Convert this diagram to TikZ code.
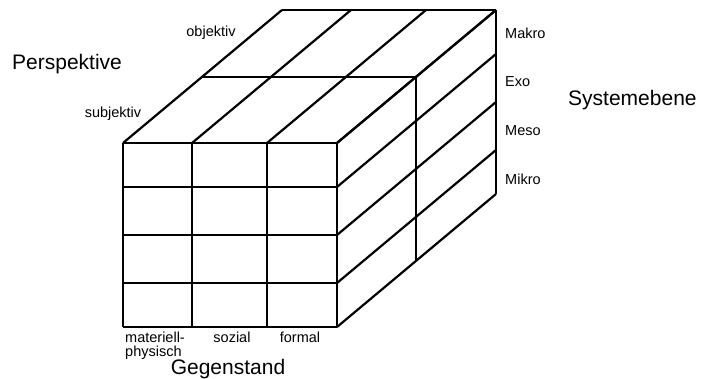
\documentclass[tikz,border=0pt]{standalone}
\usepackage{fontspec}
\setmainfont{Liberation Sans}
\usetikzlibrary{positioning}

\begin{document}
\begin{tikzpicture}[x=1pt,y=-1pt]
    \tikzset{edge/.style= {draw, line width=2.2pt
    , line join=miter
      }
    , lbl/.style= {font=\fontsize{14.5}{13.5}\selectfont
    , inner sep=0pt
      }
    , axis/.style= {font=\fontsize{21}{24}\selectfont
    , inner sep=0pt
      }
    }
\useasboundingbox (0,0) rectangle (701,379);

% front face
\foreach \x in {123,192,267,337}
  \path[edge] (\x,143) -- (\x,327);
\foreach \y in {143,187,235,283,327}
  \path[edge] (123,\y) -- (337,\y);

% top face
\foreach \x in {123,192,267,337}
  \path[edge] (\x,143) -- ++(159,-133);
\foreach \px/\py in {202/77,282/10}
  \path[edge] (\px,\py) -- ++(214,0);

% right face
\foreach \y in {143,187,235,283,327}
  \path[edge] (337,\y) -- ++(159,-133);
\foreach \px/\py in {416/77,496/10}
  \path[edge] (\px,\py) -- ++(0,184);

% labels
\node [axis, anchor=west] (persp) at (12,64) {Perspektive};
\node [lbl] (obj) at (211,33) {objektiv};
\node [lbl] (subj) at (113,114) {subjektiv};

\node [axis, anchor=west] (sysebene) at (568,100) {Systemebene};
\foreach \name [count=\i] in {Makro,Exo,Meso,Mikro}
  \node [lbl, anchor=west] (lvl\i) at (505,33+48.7*\i-48.7) {\name};

\node [lbl, anchor=north west, align=left] (matphys) at (125,332) {materiell-\\physisch};
\node [lbl, anchor=north] (soz) at (232,332) {sozial};
\node [lbl, anchor=north] (form) at (300,332) {formal};
\node [axis] (gegen) at (228,369) {Gegenstand};
\end{tikzpicture}
\end{document}
